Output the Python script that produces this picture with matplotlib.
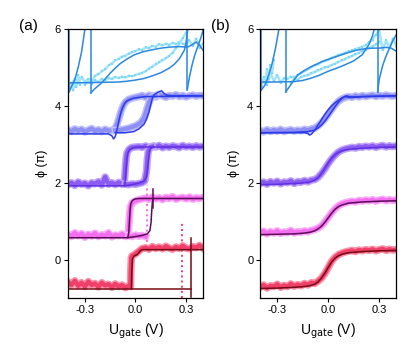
import matplotlib
matplotlib.use("Agg")
import matplotlib.pyplot as plt
from matplotlib.colors import to_rgb

plt.rcParams['font.family'] = ['Liberation Sans', 'DejaVu Sans']

# -------------------------
# Data
# -------------------------
u_full = [-0.40, -0.38, -0.36, -0.34, -0.32, -0.30, -0.28, -0.26, -0.24, -0.22,
          -0.20, -0.18, -0.16, -0.14, -0.12, -0.10, -0.08, -0.06, -0.04, -0.02,
          0.00, 0.02, 0.04, 0.06, 0.08, 0.10, 0.12, 0.14, 0.16, 0.18,
          0.20, 0.22, 0.24, 0.26, 0.28, 0.30, 0.32, 0.34, 0.36, 0.38, 0.40]

# ---- panel (a) measured data ----
a_red_x = u_full[:19] + [-0.03, -0.028, -0.025, -0.02, -0.01, 0.0, 0.02, 0.04] + u_full[23:]
a_red_y = [-0.58, -0.66, -0.55, -0.68, -0.60, -0.70, -0.57, -0.66, -0.62, -0.71,
           -0.60, -0.67, -0.64, -0.72, -0.63, -0.70, -0.66, -0.73, -0.68,
           -0.70, -0.30, 0.05, 0.10, 0.12, 0.15, 0.22, 0.29,
           0.31, 0.27, 0.34, 0.29, 0.33, 0.28, 0.35, 0.30, 0.27, 0.33, 0.29, 0.36,
           0.30, 0.28, 0.34, 0.31, 0.37, 0.30]
a_red_jump_x = [0.276, 0.276]
a_red_jump_y = [-1.0, 0.95]

a_mag_x = u_full[:18] + [-0.045, -0.04, -0.035, -0.03, -0.02, 0.0, 0.02, 0.04] + u_full[23:]
a_mag_y = [0.66, 0.60, 0.70, 0.62, 0.68, 0.58, 0.66, 0.61, 0.69, 0.60, 0.65, 0.62,
           0.70, 0.59, 0.64, 0.62, 0.67, 0.60,
           0.62, 0.85, 1.20, 1.38, 1.48, 1.53, 1.56, 1.58,
           1.60, 1.57, 1.63, 1.58, 1.61, 1.56, 1.62, 1.59, 1.64, 1.57, 1.60, 1.62,
           1.58, 1.63, 1.57, 1.61, 1.59, 1.62]
a_mag2_x = [-0.04, -0.02, 0.0, 0.02, 0.04, 0.06]
a_mag2_y = [0.62, 0.60, 0.64, 0.61, 0.63, 0.60]
a_mag_jump_x = [0.066, 0.066]
a_mag_jump_y = [0.47, 1.95]

a_pur_x = u_full[:17] + [-0.07, -0.065, -0.06, -0.055, -0.05, -0.04, -0.03, -0.02, 0.0, 0.02] + u_full[22:]
a_pur_y = [1.95, 2.00, 1.93, 2.02, 1.96, 1.99, 1.92, 2.00, 1.97, 2.03, 1.94, 2.15,
           1.96, 2.00, 1.95, 2.01, 1.96,
           1.97, 2.10, 2.40, 2.65, 2.78, 2.86, 2.90, 2.92, 2.93, 2.94,
           2.92, 2.96, 2.90, 2.95, 2.93, 2.97, 2.91, 2.95, 2.92, 2.96, 2.94, 2.91,
           2.97, 2.93, 2.95, 2.92, 2.96, 2.93, 2.95]
a_pur2_x = [-0.06, -0.04, -0.02, 0.0, 0.02, 0.04, 0.055, 0.065, 0.07, 0.075, 0.085, 0.10]
a_pur2_y = [1.96, 1.95, 1.97, 1.96, 1.98, 2.00, 2.05, 2.30, 2.60, 2.80, 2.92, 2.94]

a_per_x = u_full[:13] + [-0.14, -0.12, -0.11, -0.10, -0.09, -0.08, -0.07, -0.06, -0.04, -0.02, 0.0] + u_full[21:]
a_per_y = [3.38, 3.33, 3.40, 3.35, 3.39, 3.32, 3.37, 3.41, 3.34, 3.38, 3.33, 3.39, 3.35,
           3.36, 3.42, 3.52, 3.65, 3.80, 3.93, 4.03, 4.10, 4.17, 4.20, 4.22,
           4.24, 4.27, 4.22, 4.28, 4.25, 4.23, 4.28, 4.26, 4.22, 4.27, 4.25, 4.29,
           4.24, 4.27, 4.23, 4.26, 4.28, 4.25, 4.27, 4.26]
a_per2_x = [-0.12, -0.08, -0.04, 0.0, 0.03, 0.05, 0.06, 0.07, 0.08, 0.09, 0.10, 0.12]
a_per2_y = [3.36, 3.38, 3.42, 3.48, 3.56, 3.68, 3.80, 3.95, 4.08, 4.18, 4.24, 4.27]

a_cyan_up_x = u_full[1:36] + u_full[36:]
a_cyan_up_y = [4.55, 4.70, 4.60, 4.75, 4.62, 4.70, 4.65, 4.78, 4.82, 4.90, 4.95, 5.05,
               5.10, 5.18, 5.22, 5.28, 5.30, 5.36, 5.40, 5.42, 5.47, 5.45, 5.52, 5.50,
               5.56, 5.54, 5.60, 5.57, 5.62, 5.58, 5.64, 5.60, 5.66, 5.62, 5.60,
               5.70, 5.55, 5.75, 5.50, 5.62]
a_cyan_lo_x = u_full[5:36]
a_cyan_lo_y = [4.55, 4.62, 4.58, 4.66, 4.62, 4.70, 4.66, 4.72, 4.70, 4.75, 4.72, 4.76,
               4.74, 4.78, 4.77, 4.80, 4.83, 4.86, 4.90, 4.97, 5.02, 5.08, 5.13, 5.18,
               5.24, 5.30, 5.38, 5.50, 5.62, 5.76, 5.90]
a_cyan_left_x = [-0.39, -0.38, -0.37, -0.36, -0.35, -0.34, -0.33]
a_cyan_left_y = [4.45, 4.60, 4.40, 4.70, 4.50, 4.80, 4.55]

# ---- panel (a) fits ----
a_red_fit_lo_x = [-0.40, 0.33]
a_red_fit_lo_y = [-0.76, -0.76]
a_red_fit_sp_x = [0.33, 0.33]
a_red_fit_sp_y = [-0.96, 0.57]
a_red_fit_up_x = [0.40, 0.33, 0.04, 0.03, 0.02, 0.01, 0.0, -0.01, -0.018, -0.022, -0.024]
a_red_fit_up_y = [0.26, 0.26, 0.26, 0.24, 0.18, 0.13, 0.11, 0.09, 0.02, -0.30, -0.76]

a_mag_fit_l_x = [-0.40, -0.045, -0.04, -0.036, -0.032, -0.028, -0.022, -0.012, 0.0, 0.02, 0.05, 0.40]
a_mag_fit_l_y = [0.57, 0.57, 0.70, 1.00, 1.30, 1.45, 1.52, 1.56, 1.58, 1.59, 1.59, 1.59]
a_mag_fit_r_x = [-0.045, 0.0, 0.04, 0.07, 0.085, 0.092, 0.096, 0.10, 0.105]
a_mag_fit_r_y = [0.57, 0.60, 0.63, 0.67, 0.75, 0.95, 1.25, 1.50, 1.58]
a_mag_fit_sp_x = [0.105, 0.105]
a_mag_fit_sp_y = [1.35, 1.85]

a_pur_fit_l_x = [-0.40, -0.065, -0.06, -0.055, -0.05, -0.045, -0.035, -0.02, 0.0, 0.05, 0.40]
a_pur_fit_l_y = [1.92, 1.92, 2.10, 2.40, 2.65, 2.78, 2.86, 2.90, 2.92, 2.93, 2.93]
a_pur_fit_r_x = [-0.065, -0.02, 0.02, 0.05, 0.065, 0.072, 0.078, 0.085, 0.095, 0.11]
a_pur_fit_r_y = [1.92, 1.95, 1.99, 2.04, 2.15, 2.40, 2.65, 2.85, 2.92, 2.93]

a_per_fit_l_x = [-0.40, -0.16, -0.14, -0.13, -0.12, -0.11, -0.10, -0.09, -0.08, -0.065,
                 -0.05, -0.03, -0.01, 0.02, 0.06, 0.40]
a_per_fit_l_y = [3.27, 3.27, 3.22, 3.14, 3.20, 3.38, 3.58, 3.77, 3.92, 4.06,
                 4.13, 4.17, 4.20, 4.22, 4.24, 4.26]
a_per_fit_r_x = [-0.12, -0.06, -0.01, 0.02, 0.05, 0.065, 0.08, 0.09, 0.10, 0.11,
                 0.125, 0.14, 0.155, 0.17, 0.19, 0.22, 0.40]
a_per_fit_r_y = [3.30, 3.30, 3.33, 3.40, 3.52, 3.65, 3.84, 4.02, 4.20, 4.28,
                 4.33, 4.37, 4.39, 4.32, 4.27, 4.26, 4.26]

a_cyan_fits = [
    ([-0.395, -0.395], [6.0, 4.37]),
    ([-0.393, -0.38, -0.36, -0.34, -0.32, -0.31, -0.30], [4.37, 4.50, 4.68, 5.00, 5.40, 5.70, 6.0]),
    ([-0.265, -0.265], [6.0, 4.34]),
    ([-0.265, -0.24, -0.21, -0.18, -0.15, -0.12, -0.09, -0.05, -0.01, 0.04, 0.09, 0.15,
      0.21, 0.26, 0.31, 0.34, 0.36, 0.38, 0.40],
     [4.34, 4.45, 4.56, 4.70, 4.85, 4.98, 5.10, 5.22, 5.32, 5.40, 5.45, 5.50,
      5.53, 5.54, 5.53, 5.60, 5.66, 5.58, 5.45]),
    ([-0.40, -0.30, -0.20, -0.10, -0.05, 0.0, 0.05, 0.10, 0.15, 0.20, 0.23, 0.26, 0.29, 0.30, 0.31],
     [4.60, 4.60, 4.61, 4.62, 4.64, 4.67, 4.71, 4.78, 4.86, 4.98, 5.08, 5.22, 5.45, 5.65, 6.0]),
    ([0.307, 0.307], [6.0, 4.42]),
    ([0.307, 0.32, 0.335, 0.35, 0.37, 0.39, 0.40], [4.42, 4.75, 5.05, 5.30, 5.55, 5.80, 5.95]),
]

# ---- panel (b) measured data (all on u_full) ----
b_red_y = [-0.72, -0.66, -0.74, -0.68, -0.70, -0.64, -0.72, -0.67, -0.70, -0.63,
           -0.69, -0.65, -0.68, -0.62, -0.66, -0.60, -0.62, -0.56, -0.48, -0.36,
           -0.20, -0.04, 0.06, 0.13, 0.17, 0.20, 0.22, 0.24, 0.21, 0.25,
           0.23, 0.26, 0.24, 0.27, 0.23, 0.26, 0.28, 0.24, 0.27, 0.25, 0.26]
b_mag_y = [0.70, 0.74, 0.67, 0.73, 0.69, 0.75, 0.68, 0.72, 0.70, 0.76,
           0.69, 0.73, 0.71, 0.75, 0.72, 0.76, 0.78, 0.82, 0.88, 0.98,
           1.10, 1.22, 1.32, 1.40, 1.45, 1.48, 1.50, 1.52, 1.50, 1.54,
           1.52, 1.55, 1.53, 1.56, 1.52, 1.55, 1.57, 1.53, 1.56, 1.54, 1.55]
b_pur_y = [1.98, 2.02, 1.96, 2.03, 1.99, 2.04, 1.97, 2.02, 2.00, 2.05,
           1.98, 2.03, 2.01, 2.06, 2.02, 2.07, 2.08, 2.14, 2.24, 2.36,
           2.50, 2.62, 2.72, 2.80, 2.85, 2.88, 2.90, 2.92, 2.90, 2.94,
           2.92, 2.95, 2.93, 2.96, 2.92, 2.95, 2.97, 2.93, 2.96, 2.94, 2.96]
b_per_y = [3.36, 3.32, 3.38, 3.33, 3.37, 3.34, 3.39, 3.33, 3.36, 3.38,
           3.34, 3.37, 3.35, 3.39, 3.36, 3.40, 3.42, 3.48, 3.56, 3.66,
           3.78, 3.90, 4.02, 4.12, 4.18, 4.22, 4.24, 4.22, 4.26, 4.23,
           4.27, 4.24, 4.26, 4.28, 4.24, 4.27, 4.25, 4.28, 4.26, 4.25, 4.27]

b_cyan_up_x = u_full[1:36] + u_full[36:]
b_cyan_up_y = [4.70, 4.55, 4.85, 4.65, 4.80, 4.60, 4.72, 4.70, 4.76, 4.74, 4.80, 4.85,
               4.90, 4.95, 5.00, 5.05, 5.08, 5.14, 5.17, 5.20, 5.25, 5.28, 5.32, 5.35,
               5.38, 5.42, 5.44, 5.48, 5.50, 5.54, 5.58, 5.65, 5.72, 5.85, 5.95,
               5.45, 5.70, 5.50, 5.75, 5.55]
b_cyan_lo_x = u_full[9:36]
b_cyan_lo_y = [4.60, 4.70, 4.68, 4.75, 4.78, 4.80, 4.85, 4.88, 4.92, 4.96, 5.00, 5.02,
               5.06, 5.10, 5.14, 5.18, 5.22, 5.26, 5.30, 5.34, 5.38, 5.42, 5.46, 5.50,
               5.55, 5.60, 5.66]
b_cyan_left_x = [-0.39, -0.38, -0.37, -0.36, -0.35, -0.34, -0.33, -0.32]
b_cyan_left_y = [4.50, 4.75, 4.60, 4.95, 4.70, 5.05, 4.85, 5.20]

# ---- panel (b) fits ----
b_fit_x = [-0.40, -0.30, -0.20, -0.14, -0.10, -0.08, -0.06, -0.04, -0.02, 0.0,
           0.02, 0.04, 0.06, 0.08, 0.12, 0.20, 0.30, 0.40]
b_red_fit_y = [-0.75, -0.74, -0.72, -0.70, -0.67, -0.64, -0.58, -0.48, -0.35, -0.20,
               -0.06, 0.04, 0.10, 0.14, 0.18, 0.21, 0.23, 0.24]
b_mag_fit_y = [0.65, 0.66, 0.67, 0.69, 0.72, 0.75, 0.80, 0.87, 0.97, 1.09,
               1.21, 1.31, 1.38, 1.42, 1.47, 1.50, 1.52, 1.53]
b_pur_fit_y = [1.95, 1.96, 1.98, 2.00, 2.03, 2.07, 2.13, 2.24, 2.38, 2.52,
               2.64, 2.73, 2.79, 2.83, 2.87, 2.90, 2.92, 2.93]

b_per_fit1_x = [-0.40, -0.20, -0.14, -0.12, -0.11, -0.10, -0.08, -0.06, -0.04, -0.02,
                0.0, 0.02, 0.04, 0.06, 0.08, 0.10, 0.12, 0.14, 0.20, 0.40]
b_per_fit1_y = [3.30, 3.30, 3.30, 3.28, 3.24, 3.26, 3.36, 3.50, 3.64, 3.78,
                3.90, 4.00, 4.08, 4.14, 4.20, 4.24, 4.22, 4.22, 4.24, 4.26]
b_per_fit2_x = [-0.40, -0.20, -0.12, -0.08, -0.06, -0.04, -0.02, 0.0, 0.02, 0.04,
                0.06, 0.08, 0.10, 0.11, 0.12, 0.14, 0.20, 0.40]
b_per_fit2_y = [3.30, 3.31, 3.33, 3.37, 3.42, 3.50, 3.60, 3.72, 3.85, 3.98,
                4.10, 4.20, 4.25, 4.26, 4.24, 4.23, 4.24, 4.26]

b_cyan_fits = [
    ([-0.397, -0.397], [6.0, 4.40]),
    ([-0.395, -0.37, -0.35, -0.33, -0.31, -0.30, -0.29], [4.40, 4.55, 4.80, 5.10, 5.50, 5.75, 6.0]),
    ([-0.25, -0.25], [6.0, 4.36]),
    ([-0.25, -0.22, -0.18, -0.14, -0.10, -0.06, -0.02, 0.02, 0.06, 0.10, 0.16, 0.22,
      0.26, 0.30, 0.34, 0.37, 0.40],
     [4.36, 4.55, 4.80, 4.92, 5.02, 5.10, 5.18, 5.24, 5.30, 5.36, 5.44, 5.49,
      5.50, 5.50, 5.52, 5.50, 5.42]),
    ([-0.40, -0.30, -0.20, -0.15, -0.10, -0.05, 0.0, 0.05, 0.10, 0.15, 0.20, 0.24, 0.26, 0.27],
     [4.62, 4.62, 4.63, 4.66, 4.72, 4.80, 4.90, 4.98, 5.07, 5.17, 5.33, 5.60, 5.82, 6.0]),
    ([0.29, 0.29], [6.0, 4.36]),
    ([0.29, 0.30, 0.32, 0.34, 0.36, 0.38, 0.40], [4.36, 4.70, 5.05, 5.30, 5.50, 5.70, 5.85]),
]

# colours
c_red, c_red_fit = "#f0406a", "#780a14"
c_mag, c_mag_fit = "#f46ef0", "#5c0c58"
c_pur, c_pur_fit = "#8c5cf2", "#6030e4"
c_per, c_per_fit = "#8e8ef4", "#2a3ce8"
c_cyan, c_cyan_fit = "#7cd8f4", "#2a88e0"

DATA_LW = 3.2
FIT_LW = 1.1


def lighter(color, amount=0.45):
    r, g, b = to_rgb(color)
    return (r + (1 - r) * amount, g + (1 - g) * amount, b + (1 - b) * amount)


def data_band(ax, x, y, color):
    # pale halo + core line, to look like a dense band of noisy points
    ax.plot(x, y, color=lighter(color), lw=DATA_LW + 2.2, solid_joinstyle="round")
    ax.plot(x, y, color=color, lw=DATA_LW, solid_joinstyle="round")


def cyan_points(ax, x, y):
    ax.plot(x, y, color=lighter(c_cyan, 0.3), lw=1.8, solid_joinstyle="round")
    ax.plot(x, y, ls="none", color=c_cyan, marker="s", ms=1.6, mew=0)


# -------------------------
# Figure
# -------------------------
fig = plt.figure(figsize=(4.15, 3.57), dpi=100)
ax_a = fig.add_axes([0.164, 0.165, 0.325, 0.754])
ax_b = fig.add_axes([0.627, 0.165, 0.328, 0.754])

# panel (a) data
cyan_points(ax_a, a_cyan_up_x, a_cyan_up_y)
cyan_points(ax_a, a_cyan_lo_x, a_cyan_lo_y)
cyan_points(ax_a, a_cyan_left_x, a_cyan_left_y)
data_band(ax_a, a_per_x, a_per_y, c_per)
data_band(ax_a, a_per2_x, a_per2_y, c_per)
data_band(ax_a, a_pur_x, a_pur_y, c_pur)
data_band(ax_a, a_pur2_x, a_pur2_y, c_pur)
data_band(ax_a, a_mag_x, a_mag_y, c_mag)
data_band(ax_a, a_mag2_x, a_mag2_y, c_mag)
ax_a.plot(a_mag_jump_x, a_mag_jump_y, color=c_mag, lw=1.4, ls=":")
data_band(ax_a, a_red_x, a_red_y, c_red)
ax_a.plot(a_red_jump_x, a_red_jump_y, color=c_red, lw=1.4, ls=":")

# panel (a) fits
for fx, fy in a_cyan_fits:
    ax_a.plot(fx, fy, color=c_cyan_fit, lw=FIT_LW)
ax_a.plot(a_per_fit_l_x, a_per_fit_l_y, color=c_per_fit, lw=FIT_LW)
ax_a.plot(a_per_fit_r_x, a_per_fit_r_y, color=c_per_fit, lw=FIT_LW)
ax_a.plot(a_pur_fit_l_x, a_pur_fit_l_y, color=c_pur_fit, lw=FIT_LW)
ax_a.plot(a_pur_fit_r_x, a_pur_fit_r_y, color=c_pur_fit, lw=FIT_LW)
ax_a.plot(a_mag_fit_l_x, a_mag_fit_l_y, color=c_mag_fit, lw=FIT_LW)
ax_a.plot(a_mag_fit_r_x, a_mag_fit_r_y, color=c_mag_fit, lw=FIT_LW)
ax_a.plot(a_mag_fit_sp_x, a_mag_fit_sp_y, color=c_mag_fit, lw=FIT_LW)
ax_a.plot(a_red_fit_lo_x, a_red_fit_lo_y, color=c_red_fit, lw=FIT_LW)
ax_a.plot(a_red_fit_sp_x, a_red_fit_sp_y, color=c_red_fit, lw=FIT_LW)
ax_a.plot(a_red_fit_up_x, a_red_fit_up_y, color=c_red_fit, lw=FIT_LW)

# panel (b) data
cyan_points(ax_b, b_cyan_up_x, b_cyan_up_y)
cyan_points(ax_b, b_cyan_lo_x, b_cyan_lo_y)
cyan_points(ax_b, b_cyan_left_x, b_cyan_left_y)
data_band(ax_b, u_full, b_per_y, c_per)
data_band(ax_b, u_full, b_pur_y, c_pur)
data_band(ax_b, u_full, b_mag_y, c_mag)
data_band(ax_b, u_full, b_red_y, c_red)

# panel (b) fits
for fx, fy in b_cyan_fits:
    ax_b.plot(fx, fy, color=c_cyan_fit, lw=FIT_LW)
ax_b.plot(b_per_fit1_x, b_per_fit1_y, color=c_per_fit, lw=FIT_LW)
ax_b.plot(b_per_fit2_x, b_per_fit2_y, color=c_per_fit, lw=FIT_LW)
ax_b.plot(b_fit_x, b_pur_fit_y, color=c_pur_fit, lw=FIT_LW)
ax_b.plot(b_fit_x, b_mag_fit_y, color=c_mag_fit, lw=FIT_LW)
ax_b.plot(b_fit_x, b_red_fit_y, color=c_red_fit, lw=FIT_LW)

# axes styling
for ax in (ax_a, ax_b):
    ax.set_xlim(-0.4, 0.4)
    ax.set_ylim(-1.0, 6.0)
    ax.set_xticks([-0.3, 0.0, 0.3])
    ax.set_xticklabels(["-0.3", "0.0", "0.3"])
    ax.set_yticks([0, 2, 4, 6])
    ax.tick_params(direction="out", length=3, width=0.8, labelsize=8, pad=2)
    for sp in ax.spines.values():
        sp.set_linewidth(0.9)
    ax.set_xlabel("U$_{\\mathrm{gate}}$ (V)", fontsize=10, labelpad=5)
    ax.set_ylabel("ϕ (π)", fontsize=9, labelpad=5)

fig.text(28 / 415, 1 - 26 / 357, "(a)", fontsize=11, ha="center", va="center")
fig.text(220 / 415, 1 - 26 / 357, "(b)", fontsize=11, ha="center", va="center")

fig.savefig("out.png", dpi=100)
